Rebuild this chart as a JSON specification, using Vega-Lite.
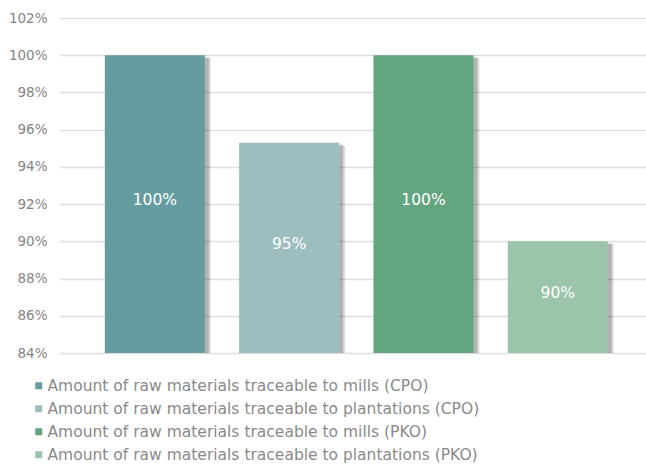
{
  "$schema": "https://vega.github.io/schema/vega-lite/v6.json",
  "width": 586,
  "height": 335,
  "autosize": {"type": "none"},
  "padding": {"left": 60, "top": 18, "right": 0, "bottom": 111},
  "background": "white",
  "config": {
    "view": {"stroke": null},
    "axisY": {
      "format": ".0%",
      "title": null,
      "domain": false,
      "ticks": false,
      "labelPadding": 13,
      "labelFont": "DejaVu Sans",
      "labelFontSize": 13.5,
      "labelColor": "#858585",
      "labelOverlap": false,
      "gridColor": "#000000",
      "gridOpacity": 0.13,
      "gridWidth": 1.5,
      "zindex": 1
    }
  },
  "data": {
    "values": [
      {"category": "Amount of raw materials traceable to mills (CPO)", "value": 1.0},
      {"category": "Amount of raw materials traceable to plantations (CPO)", "value": 0.953},
      {"category": "Amount of raw materials traceable to mills (PKO)", "value": 1.0},
      {"category": "Amount of raw materials traceable to plantations (PKO)", "value": 0.9}
    ]
  },
  "encoding": {
    "x": {
      "field": "category",
      "type": "nominal",
      "sort": null,
      "scale": {"paddingInner": 0.255, "paddingOuter": 0.309, "align": 0.54},
      "axis": null
    }
  },
  "layer": [
    {
      "mark": {"type": "bar", "color": "#000000", "opacity": 0.2, "xOffset": 4, "yOffset": 2, "clip": false},
      "encoding": {
        "y": {
          "field": "value",
          "type": "quantitative",
          "scale": {"domain": [0.84, 1.02], "zero": false, "nice": false},
          "axis": {"values": [0.84, 0.86, 0.88, 0.9, 0.92, 0.94, 0.96, 0.98, 1.0, 1.02]}
        },
        "y2": {"datum": 0.84}
      }
    },
    {
      "mark": {"type": "bar", "color": "#000000", "opacity": 0.12, "xOffset": 6, "yOffset": 3, "clip": false},
      "encoding": {
        "y": {
          "field": "value",
          "type": "quantitative",
          "axis": {"values": [0.84, 0.86, 0.88, 0.9, 0.92, 0.94, 0.96, 0.98, 1.0, 1.02]}
        },
        "y2": {"datum": 0.84}
      }
    },
    {
      "mark": {"type": "bar"},
      "encoding": {
        "y": {
          "field": "value",
          "type": "quantitative",
          "axis": {"values": [0.84, 0.86, 0.88, 0.9, 0.92, 0.94, 0.96, 0.98, 1.0, 1.02]}
        },
        "y2": {"datum": 0.84},
        "color": {
          "field": "category",
          "type": "nominal",
          "sort": null,
          "scale": {"range": ["#659c9f", "#9ebdbf", "#62a57f", "#9bc4ab"]},
          "legend": {
            "title": null,
            "orient": "none",
            "legendX": -29,
            "legendY": 360,
            "symbolType": "square",
            "symbolSize": 49,
            "symbolStrokeWidth": 0,
            "labelFont": "DejaVu Sans",
            "labelFontSize": 15.5,
            "labelColor": "#8a8a8a",
            "labelOffset": 1,
            "rowPadding": 6,
            "labelLimit": 600
          }
        }
      }
    },
    {
      "transform": [{"calculate": "(datum.value + 0.84) / 2", "as": "mid"}],
      "mark": {"type": "text", "color": "white", "font": "DejaVu Sans", "fontSize": 15.5, "baseline": "middle", "dy": -4},
      "encoding": {
        "y": {
          "field": "mid",
          "type": "quantitative",
          "axis": {"values": [0.84, 0.86, 0.88, 0.9, 0.92, 0.94, 0.96, 0.98, 1.0, 1.02]}
        },
        "text": {"field": "value", "type": "quantitative", "format": ".0%"}
      }
    }
  ]
}
